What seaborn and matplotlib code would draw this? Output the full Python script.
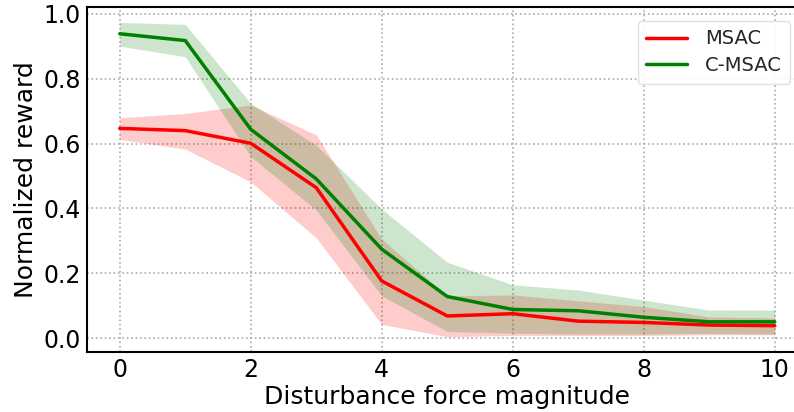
import matplotlib
matplotlib.use("Agg")
import matplotlib.pyplot as plt
import numpy as np
import pandas as pd
import seaborn as sns

# Disturbance force magnitudes
force = [0, 1, 2, 3, 4, 5, 6, 7, 8, 9, 10]

# MSAC: mean normalized reward and band limits
msac_mean = [0.647, 0.640, 0.601, 0.464, 0.176, 0.068, 0.075, 0.052, 0.048, 0.040, 0.038]
msac_low = [0.613, 0.583, 0.482, 0.309, 0.042, 0.004, 0.008, 0.008, 0.008, 0.010, 0.010]
msac_high = [0.680, 0.693, 0.719, 0.627, 0.305, 0.130, 0.133, 0.115, 0.097, 0.065, 0.062]

# C-MSAC: mean normalized reward and band limits
cmsac_mean = [0.939, 0.918, 0.644, 0.491, 0.274, 0.128, 0.088, 0.084, 0.064, 0.050, 0.050]
cmsac_low = [0.901, 0.868, 0.560, 0.395, 0.130, 0.020, 0.015, 0.012, 0.012, 0.014, 0.012]
cmsac_high = [0.974, 0.968, 0.724, 0.595, 0.398, 0.234, 0.164, 0.148, 0.117, 0.086, 0.086]

series = ["MSAC", "C-MSAC"]
colors = {"MSAC": "#ff0000", "C-MSAC": "#008000"}

df = pd.DataFrame({
    "force": force * 2,
    "reward": msac_mean + cmsac_mean,
    "method": ["MSAC"] * len(force) + ["C-MSAC"] * len(force),
})

sns.set_theme(style="white")
plt.rcParams["font.family"] = ["DejaVu Sans"]

fig = plt.figure(figsize=(7.94, 4.12), dpi=100)
ax = fig.add_axes([87 / 794, 60 / 412, 720.5 / 794, 345 / 412])

sns.lineplot(data=df, x="force", y="reward", hue="method", hue_order=series,
             palette=colors, linewidth=2.5, ax=ax)

ax.fill_between(force, msac_low, msac_high, color=colors["MSAC"], alpha=0.2, linewidth=0)
ax.fill_between(force, cmsac_low, cmsac_high, color=colors["C-MSAC"], alpha=0.2, linewidth=0)

ax.set_xlim(-0.5, 10.5)
ax.set_ylim(-0.0432, 1.0216)
ax.set_xticks([0, 2, 4, 6, 8, 10])
ax.set_yticks([0.0, 0.2, 0.4, 0.6, 0.8, 1.0])
ax.set_yticklabels(["0.0", "0.2", "0.4", "0.6", "0.8", "1.0"])

ax.grid(True, linestyle=":", color="#aaaaaa", linewidth=1.2)
ax.tick_params(axis="both", length=2.5, width=1, color="#333333",
               labelsize=17, labelcolor="black", pad=2)
for sp in ax.spines.values():
    sp.set_color("black")
    sp.set_linewidth(1.5)
ax.spines["right"].set_visible(False)

ax.set_xlabel("Disturbance force magnitude", fontsize=18, color="black", labelpad=2)
ax.set_ylabel("Normalized reward", fontsize=18, color="black", labelpad=4)

leg = ax.legend(loc="upper right", bbox_to_anchor=(800 / 794, 1 - 11 / 412),
                bbox_transform=fig.transFigure, fontsize=14, frameon=True,
                handlelength=2.1, handletextpad=0.9, borderpad=0.45,
                labelspacing=0.4)
leg.get_frame().set_edgecolor("#dddddd")
leg.get_frame().set_alpha(0.9)

fig.savefig("out.png", dpi=100)
